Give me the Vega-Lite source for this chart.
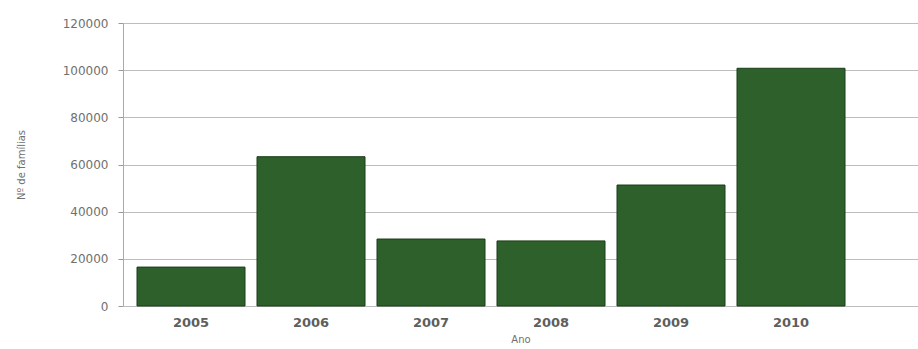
{
  "$schema": "https://vega.github.io/schema/vega-lite/v6.json",
  "autosize": "none",
  "padding": {"left": 123, "top": 23, "right": 0, "bottom": 43},
  "width": 795,
  "height": 283,
  "background": "white",
  "config": {
    "view": {"stroke": null},
    "axis": {"labelFont": "DejaVu Sans", "titleFont": "DejaVu Sans", "labelColor": "#707070", "titleColor": "#707070"}
  },
  "data": {
    "values": [
      {"ano": "2005", "familias": 16500},
      {"ano": "2006", "familias": 63300},
      {"ano": "2007", "familias": 28400},
      {"ano": "2008", "familias": 27600},
      {"ano": "2009", "familias": 51300},
      {"ano": "2010", "familias": 100800}
    ]
  },
  "mark": {"type": "bar", "color": "#2d602b", "stroke": "#1b3d19", "strokeWidth": 1},
  "encoding": {
    "x": {
      "field": "ano",
      "type": "ordinal",
      "scale": {"paddingInner": 0.1, "paddingOuter": 0.3625, "align": 0.161},
      "axis": {
        "title": "Ano",
        "titleFontSize": 10,
        "titleFontWeight": "normal",
        "titlePadding": 5,
        "labelAngle": 0,
        "labelFontSize": 13,
        "labelFontWeight": "bold",
        "labelColor": "#5e5e5e",
        "labelPadding": 10,
        "domain": false,
        "ticks": false
      }
    },
    "y": {
      "field": "familias",
      "type": "quantitative",
      "scale": {"domain": [0, 120000], "nice": false},
      "axis": {
        "title": "Nº de famílias",
        "titleFontSize": 10,
        "titleFontWeight": "normal",
        "titlePadding": 36,
        "values": [0, 20000, 40000, 60000, 80000, 100000, 120000],
        "format": "d",
        "labelFontSize": 12,
        "labelPadding": 10,
        "tickSize": 5,
        "tickColor": "#999999",
        "domainColor": "#aaaaaa",
        "gridColor": "#bdbdbd",
        "grid": true
      }
    }
  }
}
